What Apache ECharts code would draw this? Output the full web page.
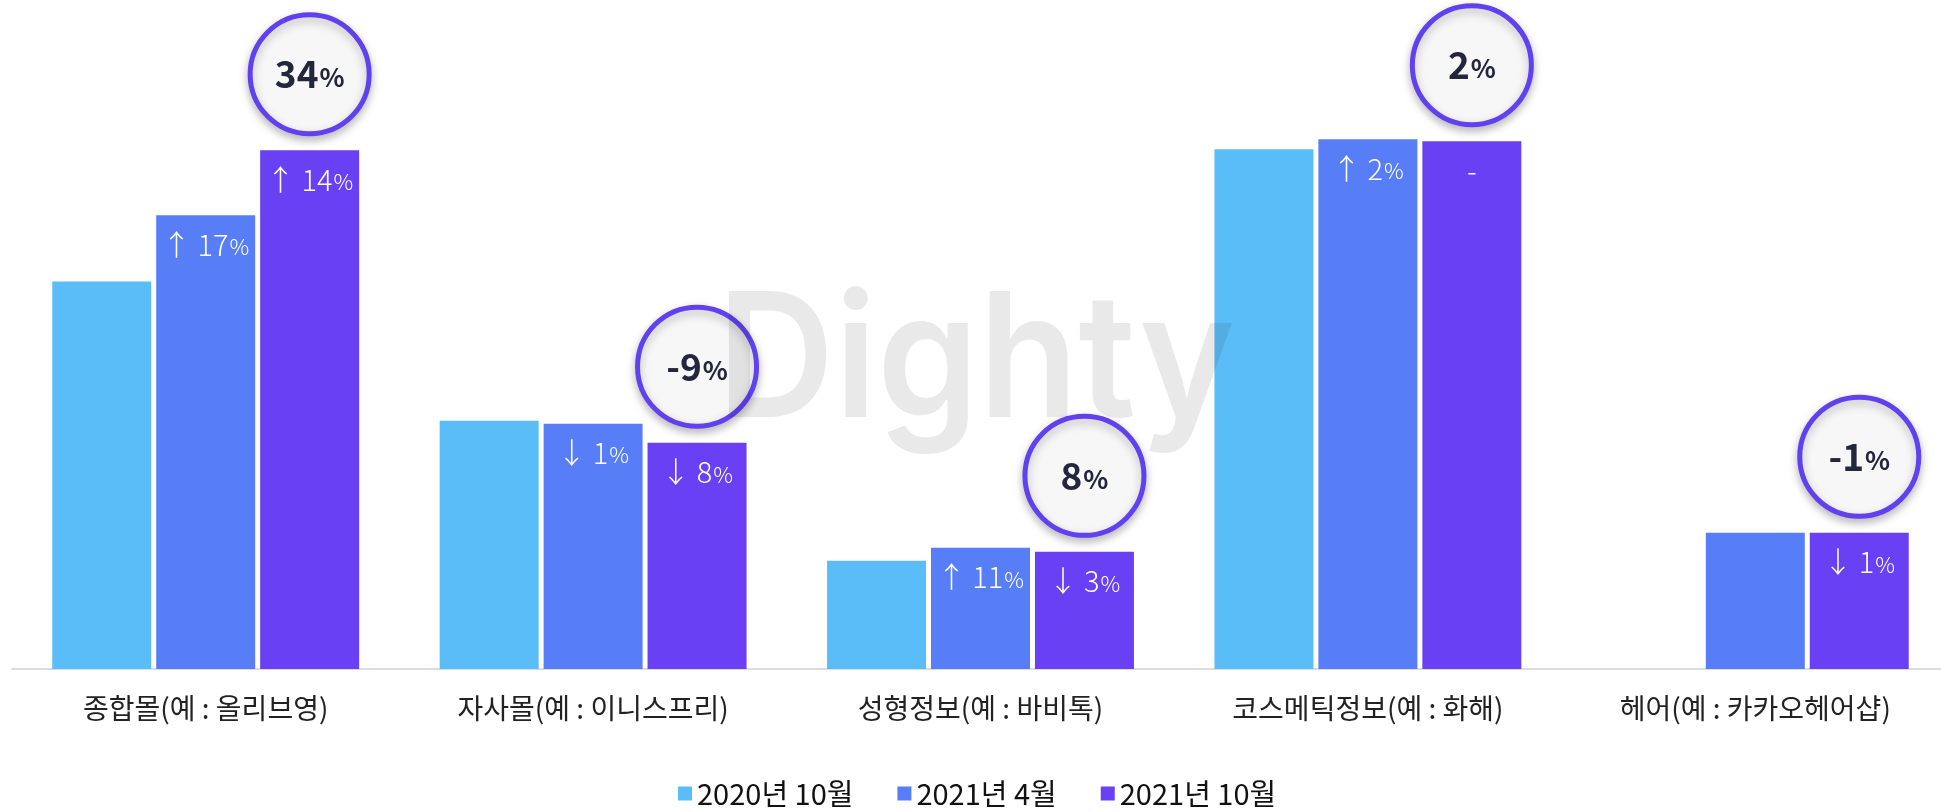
<!DOCTYPE html>
<html>
<head>
<meta charset="utf-8">
<script src="https://cdn.jsdelivr.net/npm/echarts@6/dist/echarts.min.js"></script>
<style>
    html, body { margin: 0; padding: 0; background: #fff; }
    #chart { width: 1941px; height: 812px; }
</style>
</head>
<body>
<div id="chart"></div>
<script>
var categories = ['종합몰(예 : 올리브영)', '자사몰(예 : 이니스프리)', '성형정보(예 : 바비톡)', '코스메틱정보(예 : 화해)', '헤어(예 : 카카오헤어샵)'];
var seriesNames = ['2020년 10월', '2021년 4월', '2021년 10월'];

// bar heights
var oct2020 = [387, 248, 108, 519, null];
var apr2021 = [453, 245, 121, 529, 136];
var oct2021 = [518, 226, 117, 527, 136];

// labels inside the bars (change vs. previous period)
var apr2021Labels = ['↑ 17%', '↓ 1%', '↑ 11%', '↑ 2%', ''];
var oct2021Labels = ['↑ 14%', '↓ 8%', '↓ 3%', '-', '↓ 1%'];

// yearly change shown in the bubbles
var yearChange = ['34', '-9', '8', '2', '-1'];

var colors = ['#5bbdf8', '#577ef6', '#6940f4'];
var font = '"Noto Sans CJK KR", "Noto Sans", sans-serif';

var chart = echarts.init(document.getElementById('chart'));

function barLabel(labels) {
    return {
        show: true,
        position: 'insideTop',
        distance: 15,
        color: '#fff',
        formatter: function (p) {
            var s = labels[p.dataIndex] || '';
            if (s.slice(-1) === '%') {
                return '{n|' + s.slice(0, -1) + '}{p|%}';
            }
            return '{n|' + s + '}';
        },
        rich: {
            n: { fontSize: 29, fontWeight: 300, color: '#fff', fontFamily: font },
            p: { fontSize: 22, fontWeight: 300, color: '#fff', fontFamily: font, padding: [4, 0, 0, 1] }
        }
    };
}

var bubbles = [];
for (var i = 0; i < categories.length; i++) {
    bubbles.push({ coord: [categories[i], oct2021[i]], value: yearChange[i] });
}

var option = {
    animation: false,
    textStyle: { fontFamily: font },
    grid: { left: 12, width: 1937, top: 0, bottom: 143, outerBoundsMode: 'none' },
    legend: {
        data: seriesNames,
        left: 673,
        top: 774,
        icon: 'rect',
        itemWidth: 14,
        itemHeight: 14,
        itemGap: 44,
        textStyle: { fontSize: 29, color: '#111', fontFamily: font }
    },
    xAxis: {
        type: 'category',
        data: categories,
        axisLine: { lineStyle: { color: '#dcdcdc', width: 2 } },
        axisTick: { show: false },
        axisLabel: { color: '#222', fontSize: 28, margin: 25, fontFamily: font }
    },
    yAxis: {
        type: 'value',
        min: 0,
        max: 668,
        show: false,
        splitLine: { show: false }
    },
    series: [
        {
            name: seriesNames[0],
            type: 'bar',
            data: oct2020,
            barWidth: 99,
            barGap: '5%',
            itemStyle: { color: colors[0] }
        },
        {
            name: seriesNames[1],
            type: 'bar',
            data: apr2021,
            barWidth: 99,
            barGap: '5%',
            itemStyle: { color: colors[1] },
            label: barLabel(apr2021Labels)
        },
        {
            name: seriesNames[2],
            type: 'bar',
            data: oct2021,
            barWidth: 99,
            barGap: '5%',
            itemStyle: { color: colors[2] },
            label: barLabel(oct2021Labels),
            markPoint: {
                silent: true,
                symbol: 'circle',
                symbolSize: 119,
                symbolOffset: [0, -76],
                itemStyle: {
                    color: '#f7f7f8',
                    borderColor: '#6041ef',
                    borderWidth: 5,
                    shadowBlur: 10,
                    shadowOffsetY: 4,
                    shadowColor: 'rgba(0,0,0,0.25)'
                },
                label: {
                    show: true,
                    position: 'inside',
                    formatter: function (p) {
                        return '{n|' + p.value + '}{p|%}';
                    },
                    rich: {
                        n: { fontSize: 37, fontWeight: 'bold', color: '#23263c', fontFamily: font },
                        p: { fontSize: 26, fontWeight: 'bold', color: '#23263c', fontFamily: font, padding: [6, 0, 0, 1] }
                    }
                },
                data: bubbles
            }
        }
    ],
    graphic: [{
        type: 'text',
        left: 717,
        top: 278,
        z: 100,
        silent: true,
        scaleX: 0.94,
        style: {
            text: 'Dighty',
            fontSize: 173,
            fontWeight: 600,
            fontFamily: 'Inter, "Open Sans", sans-serif',
            fill: 'rgba(0,0,0,0.088)'
        }
    }]
};

chart.setOption(option);
</script>
</body>
</html>
